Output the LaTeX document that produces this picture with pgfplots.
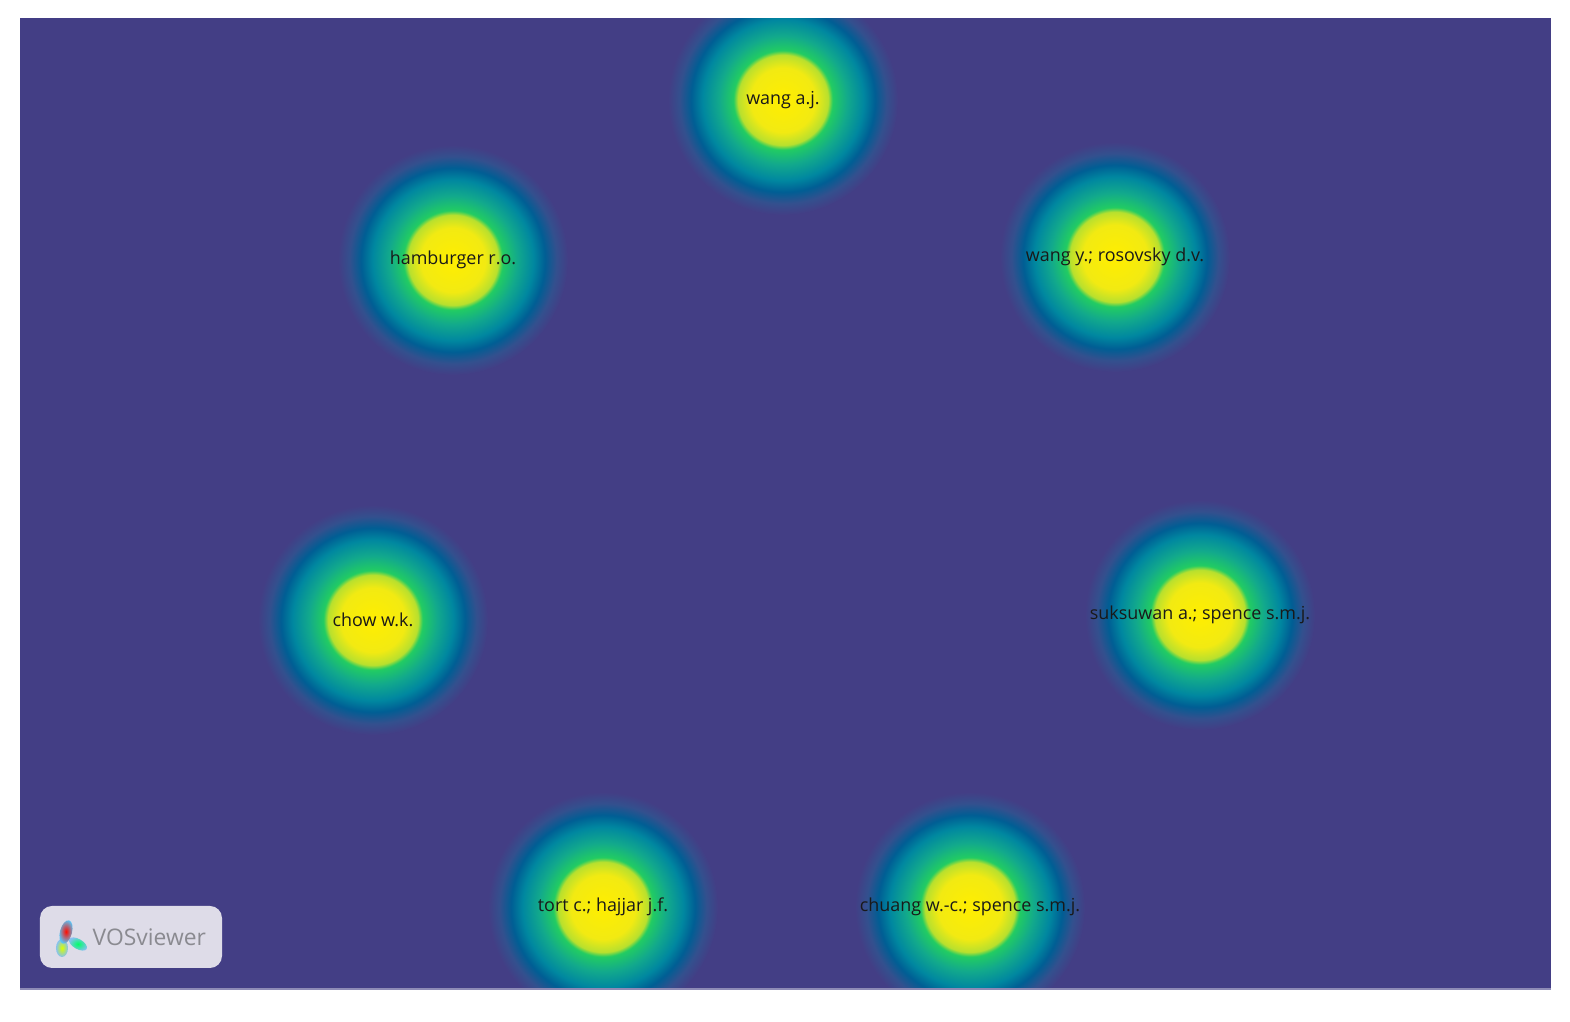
\documentclass[border=0pt]{standalone}
\usepackage{fontspec}
\setmainfont{Open Sans}
\usepackage{pgfplots}
\usepackage{pgfplotstable}
\pgfplotsset{compat=1.18}

% viridis-like density colours
\definecolor{vbg}{HTML}{433E85}
\definecolor{vya}{HTML}{FFEE00}
\definecolor{vyb}{HTML}{F2EA12}
\definecolor{vyc}{HTML}{B8E02E}
\definecolor{vgr}{HTML}{22CC62}
\definecolor{vtl}{HTML}{12A98C}
\definecolor{vbl}{HTML}{0087A0}
\definecolor{vdb}{HTML}{005E94}
\definecolor{vmid}{HTML}{33508E}
\definecolor{logobg}{HTML}{DEDCE8}
\definecolor{logotxt}{HTML}{8A8A90}

% path edge sits at 25bp of the shading
\pgfdeclareradialshading{vosglow}{\pgfpointorigin}{%
  color(0bp)=(vya); color(7bp)=(vyb); color(9.8bp)=(vyc); color(10.8bp)=(vgr);
  color(14bp)=(vtl); color(17.5bp)=(vbl); color(20bp)=(vdb); color(22.5bp)=(vmid);
  color(25bp)=(vbg); color(50bp)=(vbg)}

% semicolon that survives the coordinate stream
\protected\def\semi{;}

% item positions (pixel grid of the map)
\pgfplotstableread[col sep=comma]{
x,y,label
783,100,wang a.j.
453,260,hamburger r.o.
1115,257,wang y.\semi{} rosovsky d.v.
373,620,chow w.k.
1200,615,suksuwan a.\semi{} spence s.m.j.
603,907,tort c.\semi{} hajjar j.f.
970,907,chuang w.-c.\semi{} spence s.m.j.
}\itemtable

\begin{document}
\begin{tikzpicture}
\path[use as bounding box] (-2mm,-3.2mm) rectangle (155mm,99mm);
\begin{axis}[
    at={(0,0)}, anchor=south west,
    scale only axis,
    width=153.1mm, height=97.2mm,
    xmin=20, xmax=1551,
    ymin=18, ymax=990,
    y dir=reverse,
    axis lines=none,
    ticks=none,
    axis background/.style={fill=vbg},
]
    \addplot[only marks, mark=none,
        nodes near coords={},
        every node near coord/.style={circle, inner sep=0pt,
            minimum size=23mm, shade, shading=vosglow, anchor=center}]
        table[x=x, y=y] {\itemtable};
    \addplot[only marks, mark=none,
        point meta=explicit symbolic,
        nodes near coords,
        every node near coord/.style={anchor=center, inner sep=0pt,
            font=\fontsize{5.1}{6}\selectfont, text=black!90}]
        table[x=x, y=y, meta=label] {\itemtable};
\end{axis}
% white margin around the map
\fill[white, even odd rule] (-2mm,-3.2mm) rectangle (155mm,99mm)
    (0,0) rectangle (153.1mm,97.2mm);
\draw[vbg!60!white, line width=0.25mm] (0,0.1mm) -- (153.1mm,0.1mm);
% VOSviewer logo
\fill[logobg, rounded corners=1.2mm] (2mm,2.2mm) rectangle (20.2mm,8.4mm);
\shade[inner color=yellow!85!green, outer color=cyan!60!blue!40!logobg] (4.2mm,4.2mm) ellipse (0.6mm and 0.9mm);
\shade[rotate around={-30:(5.8mm,4.6mm)}, inner color=green!60!cyan, outer color=cyan!60!blue!40!logobg] (5.8mm,4.6mm) ellipse (1.0mm and 0.5mm);
\shade[rotate around={-15:(4.6mm,5.8mm)}, inner color=red!90!orange, outer color=cyan!70!blue!60!logobg] (4.6mm,5.8mm) ellipse (0.6mm and 1.2mm);
\node[anchor=west, inner sep=0pt, text=logotxt, font=\fontsize{6.5}{8}\selectfont] at (7.2mm,5.3mm) {VOSviewer};
\end{tikzpicture}
\end{document}
